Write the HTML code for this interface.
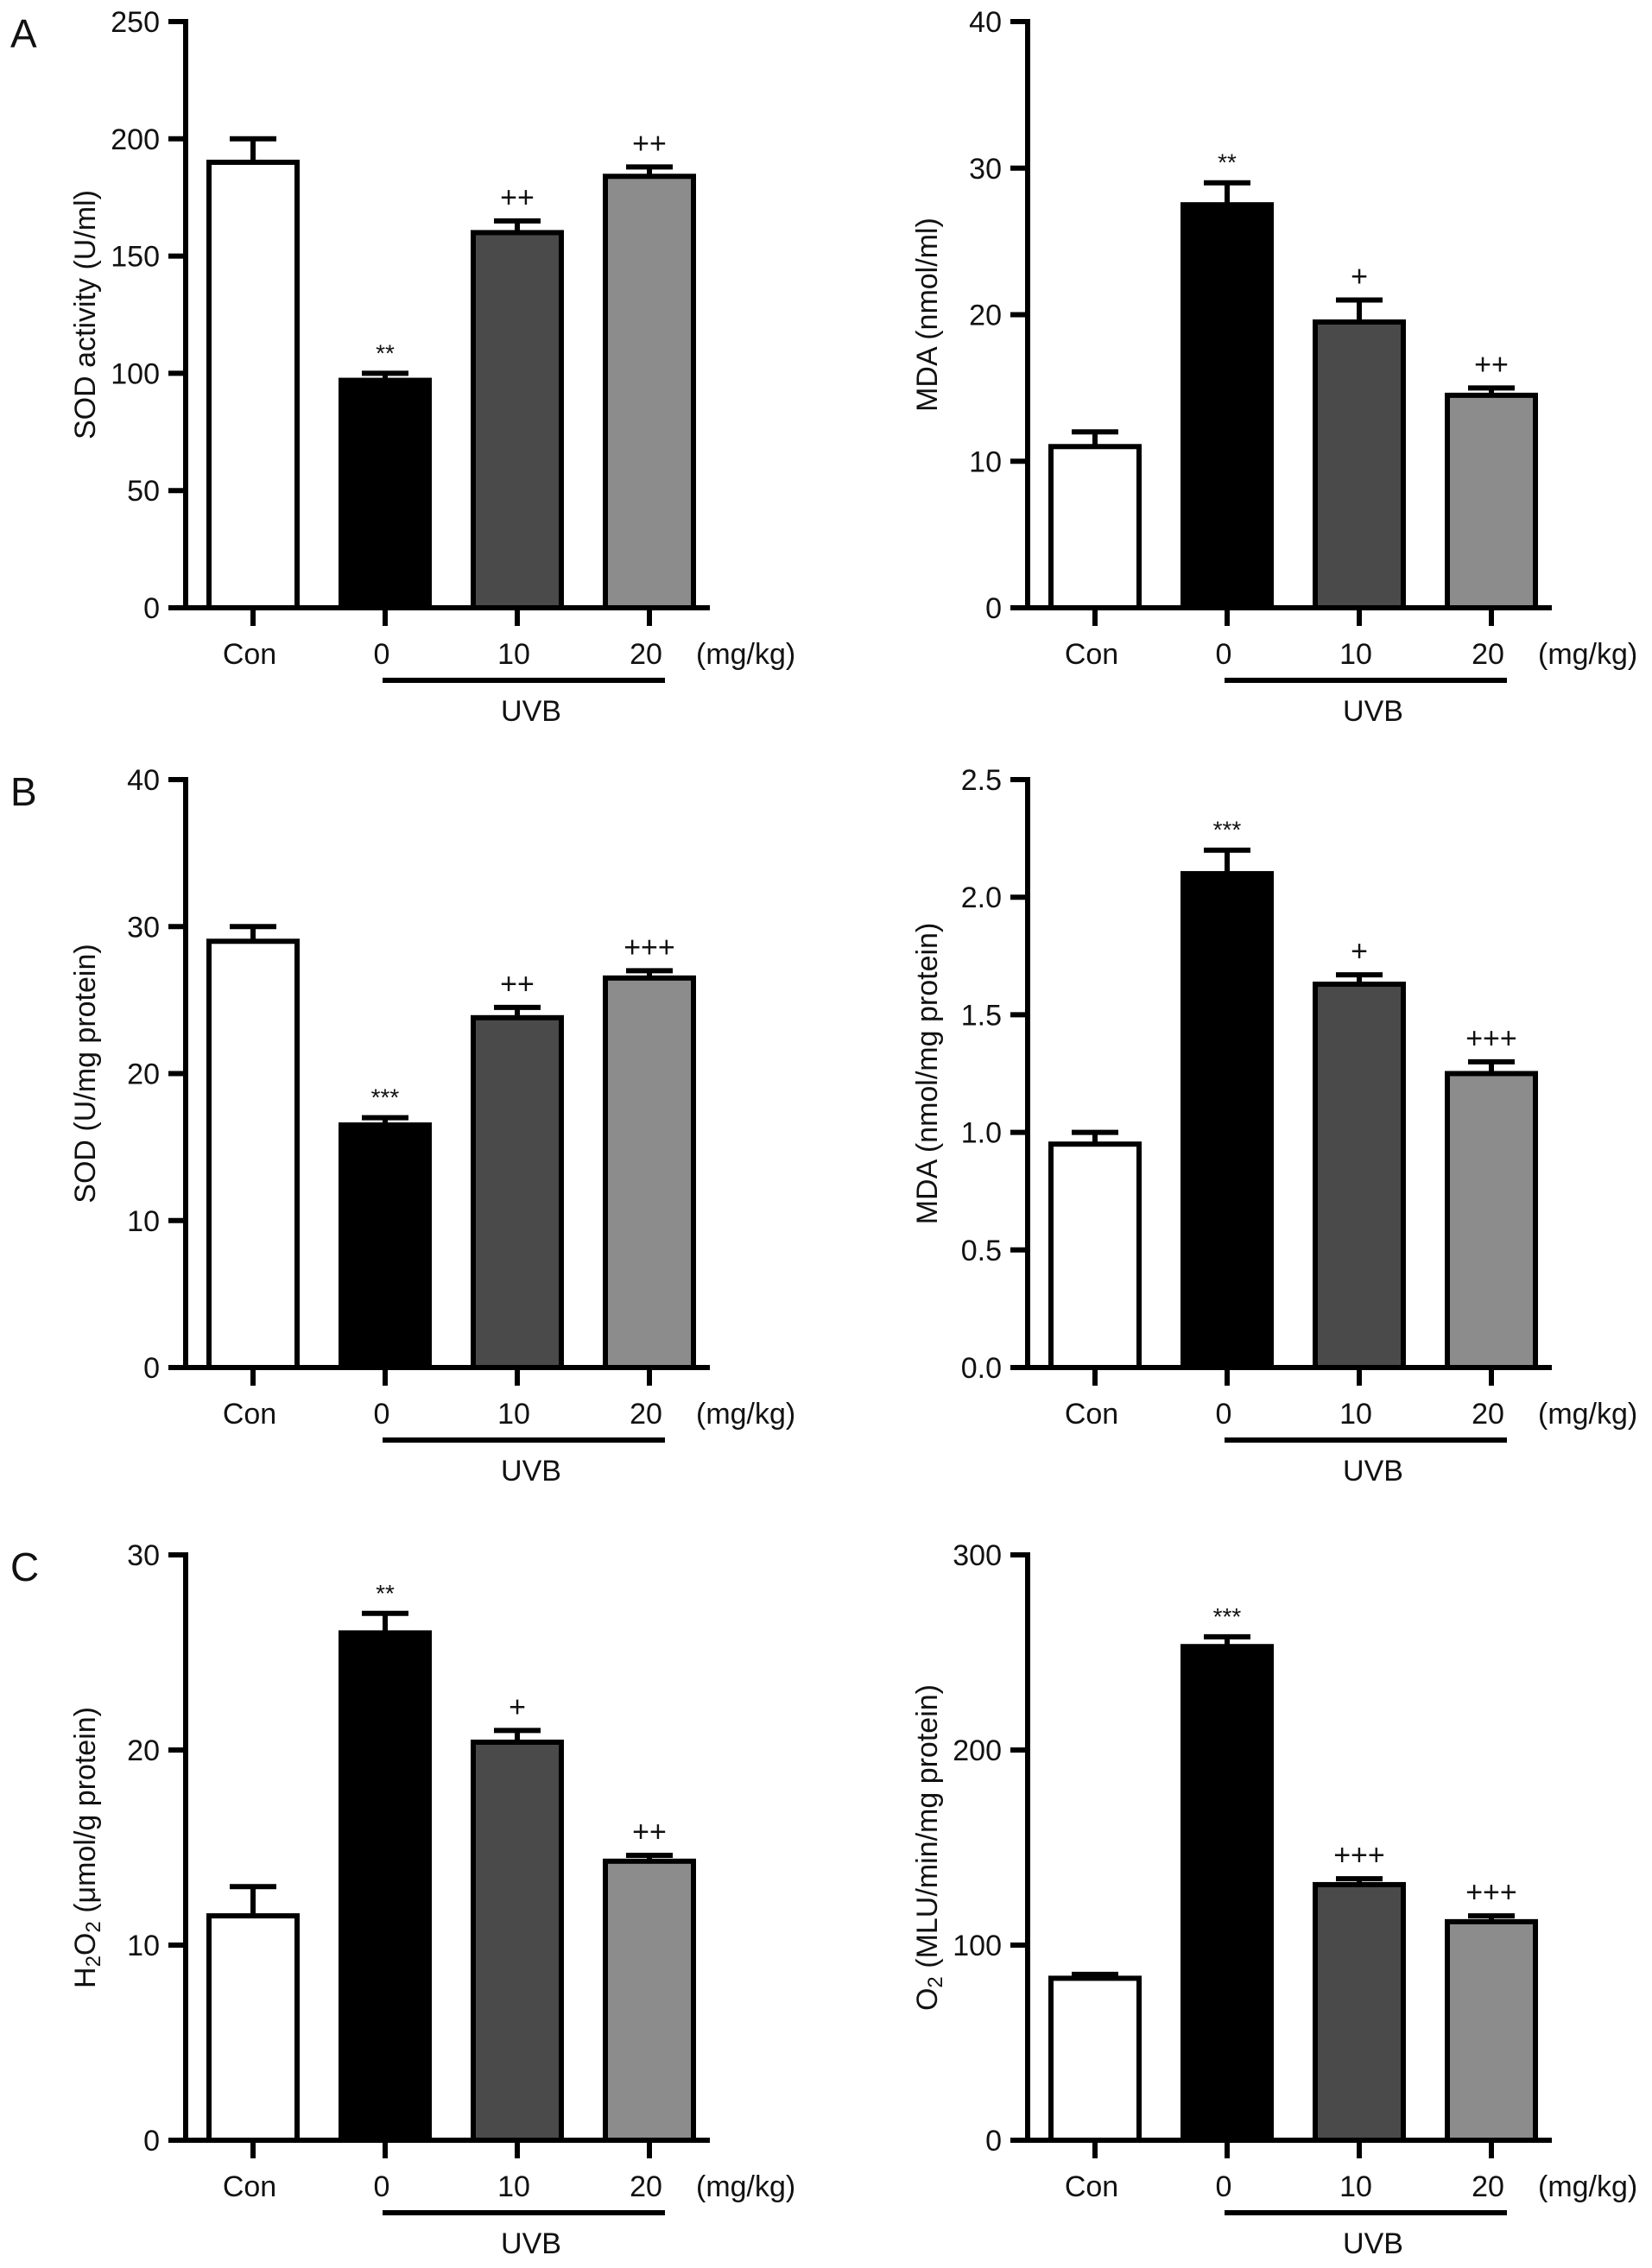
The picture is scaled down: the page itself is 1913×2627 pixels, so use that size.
<!DOCTYPE html>
<html><head><meta charset="utf-8"><style>
html,body{margin:0;padding:0;background:#fff;}
svg{display:block;font-family:"Liberation Sans",Arial,sans-serif;}
</style></head><body>
<svg id="fig" width="1913" height="2627" viewBox="0 0 1913 2627" xmlns="http://www.w3.org/2000/svg"></svg>
<script>
const categories = ["Con","0","10","20"];
const fills = ["#ffffff","#000000","#4a4a4a","#8c8c8c"];
const sodA = [190,97,160,184];      const sodAErr = [10,3,5,4];
const mdaA = [11,27.5,19.5,14.5];   const mdaAErr = [1,1.5,1.5,0.5];
const sodB = [29,16.5,23.8,26.5];   const sodBErr = [1,0.5,0.7,0.5];
const mdaB = [0.95,2.1,1.63,1.25];  const mdaBErr = [0.05,0.1,0.04,0.05];
const h2o2 = [11.5,26,20.4,14.3];   const h2o2Err = [1.5,1,0.6,0.3];
const o2 = [83,253,131,112];        const o2Err = [2,5,3,3];
const ticksSodA = [0,50,100,150,200,250];
const ticksMdaA = [0,10,20,30,40];
const ticksSodB = [0,10,20,30,40];
const ticksMdaB = ["0.0","0.5","1.0","1.5","2.0","2.5"];
const ticksH2o2 = [0,10,20,30];
const ticksO2 = [0,100,200,300];
const annA1 = ["","**","++","++"];
const annA2 = ["","**","+","++"];
const annB1 = ["","***","++","+++"];
const annB2 = ["","***","+","+++"];
const annC1 = ["","**","+","++"];
const annC2 = ["","***","+++","+++"];

const svg = document.getElementById('fig');
const NS = "http://www.w3.org/2000/svg";
function mk(tag, attrs, parent){
  const e = document.createElementNS(NS, tag);
  for (const k in attrs) e.setAttribute(k, attrs[k]);
  (parent||svg).appendChild(e);
  return e;
}

const panels = [
  {id:"a-sod", col:0, top:25, zero:704, vals:sodA, errs:sodAErr, ticks:ticksSodA, ann:annA1, letter:"A", title:[["SOD activity (U/ml)"]]},
  {id:"a-mda", col:1, top:25, zero:704, vals:mdaA, errs:mdaAErr, ticks:ticksMdaA, ann:annA2, title:[["MDA (nmol/ml)"]]},
  {id:"b-sod", col:0, top:903, zero:1584, vals:sodB, errs:sodBErr, ticks:ticksSodB, ann:annB1, letter:"B", title:[["SOD  (U/mg protein)"]]},
  {id:"b-mda", col:1, top:903, zero:1584, vals:mdaB, errs:mdaBErr, ticks:ticksMdaB, ann:annB2, title:[["MDA (nmol/mg protein)"]]},
  {id:"c-h2o2", col:0, top:1801, zero:2479, vals:h2o2, errs:h2o2Err, ticks:ticksH2o2, ann:annC1, letter:"C", title:[["H"],["2","sub"],["O"],["2","sub"],[" (μmol/g protein)"]]},
  {id:"c-o2", col:1, top:1801, zero:2479, vals:o2, errs:o2Err, ticks:ticksO2, ann:annC2, title:[["O"],["2","sub"],[" (MLU/min/mg protein)"]]}
];

panels.forEach(p=>{
  const dx = p.col*975;
  const ax = 215+dx;
  const tmin = parseFloat(p.ticks[0]), tmax = parseFloat(p.ticks[p.ticks.length-1]);
  const y = v => p.zero - (v - tmin)/(tmax - tmin)*(p.zero - p.top);
  const xc = i => 293 + dx + i*153;
  const g = mk('g', {});
  
  

  if (p.letter){
    const L = mk('text',{x:12, y:p.top+30, 'font-size':46, fill:'#111'}, g);
    
    
    L.textContent = p.letter;
  }
  p.vals.forEach((v,i)=>{
    const bx = xc(i)-51, by = y(v);
    const r = mk('rect',{x:bx, y:by, width:102, height:p.zero-by, fill:fills[i], stroke:'#000','stroke-width':6}, g);
    
    
    const ey = y(v + p.errs[i]);
    const e1 = mk('line',{x1:xc(i), x2:xc(i), y1:by, y2:ey, stroke:'#000','stroke-width':6}, g);
    
    
    const e2 = mk('line',{x1:xc(i)-27, x2:xc(i)+27, y1:ey, y2:ey, stroke:'#000','stroke-width':6}, g);
    
    
    if (p.ann[i]){
      const star = p.ann[i].indexOf('*')>=0;
      const t = mk('text',{x:xc(i), y:ey-(star?14:16), 'text-anchor':'middle','font-size':star?28:34, fill:'#111'}, g);
      
      
      t.textContent = p.ann[i];
    }
  });
  const ya = mk('line',{x1:ax, x2:ax, y1:p.top-3, y2:p.zero, stroke:'#000','stroke-width':6}, g);
  
  
  const xa = mk('line',{x1:ax-20, x2:822+dx, y1:p.zero, y2:p.zero, stroke:'#000','stroke-width':6}, g);
  
  
  p.ticks.forEach(t=>{
    const ty = y(parseFloat(t));
    const tl = mk('line',{x1:ax-20, x2:ax, y1:ty, y2:ty, stroke:'#000','stroke-width':6}, g);
    
    
    const tt = mk('text',{x:ax-30, y:ty+12, 'text-anchor':'end','font-size':34, fill:'#111'}, g);
    
    
    tt.textContent = t;
  });
  categories.forEach((c,i)=>{
    const tl = mk('line',{x1:xc(i), x2:xc(i), y1:p.zero, y2:p.zero+21, stroke:'#000','stroke-width':6}, g);
    
    
    const tt = mk('text',{x:xc(i)-4, y:p.zero+65, 'text-anchor':'middle','font-size':34, fill:'#111'}, g);
    
    
    tt.textContent = c;
  });
  const u = mk('text',{x:806+dx, y:p.zero+65, 'font-size':34, fill:'#111'}, g);
  
  
  u.textContent = '(mg/kg)';
  const ul = mk('line',{x1:443+dx, x2:770+dx, y1:p.zero+84, y2:p.zero+84, stroke:'#000','stroke-width':6}, g);
  
  
  const ut = mk('text',{x:615+dx, y:p.zero+131, 'text-anchor':'middle','font-size':34, fill:'#111'}, g);
  
  
  ut.textContent = 'UVB';
  const cy = (p.top + p.zero)/2;
  const tx = 110 + dx;
  const yt = mk('text',{x:tx, y:cy, 'text-anchor':'middle','font-size':34, fill:'#111', transform:`rotate(-90 ${tx} ${cy})`}, g);
  
  
  p.title.forEach(part=>{
    const s = mk('tspan', part[1]==='sub' ? {'font-size':24, dy:6} : {dy: 0}, yt);
    s.textContent = part[0];
    if (part[1]==='sub'){ s.setAttribute('data-after','1'); }
  });
  const spans = yt.querySelectorAll('tspan');
  spans.forEach((s,k)=>{ if (k>0 && spans[k-1].getAttribute('data-after')==='1' && s.getAttribute('data-after')!=='1') s.setAttribute('dy',-6); });
});
</script>
</body></html>
